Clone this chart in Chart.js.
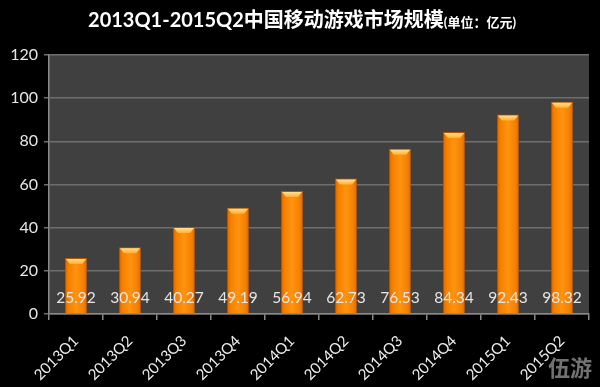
<!DOCTYPE html>
<html>
<head>
<meta charset="utf-8">
<script src="https://cdn.jsdelivr.net/npm/chart.js@4.4.1/dist/chart.umd.min.js"></script>
<style>
  html, body { margin: 0; padding: 0; background: #000; }
  #wrap { width: 600px; height: 387px; position: relative; }
</style>
</head>
<body>
<div id="wrap"><canvas id="marketChart"></canvas></div>
<script>
// chart data
const quarters = ['2013Q1', '2013Q2', '2013Q3', '2013Q4', '2014Q1', '2014Q2', '2014Q3', '2014Q4', '2015Q1', '2015Q2'];
const marketSize = [25.92, 30.94, 40.27, 49.19, 56.94, 62.73, 76.53, 84.34, 92.43, 98.32];
const yTicks = [0, 20, 40, 60, 80, 100, 120];
const titleMain = '2013Q1-2015Q2中国移动游戏市场规模';
const titleUnit = '(单位：亿元)';
const watermark = '伍游';

const BAR_PCT = 0.41;
const FONT = "Lato, 'Noto Sans CJK SC', sans-serif";

(function () {
    const canvas = document.getElementById('marketChart');
    const ctx = canvas.getContext('2d');

    function barGradient(context) {
        const chart = context.chart;
        const xs = chart.scales.x;
        if (!xs || !chart.chartArea) return '#ff8a00';
        const cx = xs.getPixelForValue(context.dataIndex);
        const w = xs.width / quarters.length * BAR_PCT;
        const g = chart.ctx.createLinearGradient(cx - w / 2, 0, cx + w / 2, 0);
        g.addColorStop(0, '#d46400');
        g.addColorStop(0.15, '#f57f00');
        g.addColorStop(0.5, '#ff9410');
        g.addColorStop(0.85, '#f57f00');
        g.addColorStop(1, '#d46400');
        return g;
    }

    // background, plot area, title, bevels, value labels
    const decor = {
        id: 'decor',
        beforeDraw(chart) {
            const c = chart.ctx;
            const a = chart.chartArea;
            c.save();
            c.fillStyle = '#000';
            c.fillRect(0, 0, chart.width, chart.height);
            c.fillStyle = '#404040';
            c.fillRect(a.left, a.top, a.right - a.left, a.bottom - a.top);
            c.restore();
        },
        afterDatasetsDraw(chart) {
            const c = chart.ctx;
            const meta = chart.getDatasetMeta(0);
            const ys = chart.scales.y;
            c.save();
            meta.data.forEach(function (bar, i) {
                const w = bar.width;
                const l = bar.x - w / 2;
                const r = bar.x + w / 2;
                const t = bar.y;
                const g = c.createLinearGradient(0, t, 0, t + 6);
                g.addColorStop(0, '#ffe9a0');
                g.addColorStop(1, '#ffb030');
                c.fillStyle = g;
                c.beginPath();
                c.moveTo(l + 1, t + 1);
                c.lineTo(r - 1, t + 1);
                c.lineTo(r - 5, t + 6);
                c.lineTo(l + 5, t + 6);
                c.closePath();
                c.fill();

                c.fillStyle = '#e6e6e6';
                c.font = '15.5px ' + FONT;
                c.textAlign = 'center';
                c.textBaseline = 'middle';
                c.fillText(marketSize[i].toFixed(2), bar.x, ys.bottom - 16);
            });
            c.restore();
        },
        afterDraw(chart) {
            const c = chart.ctx;
            c.save();
            c.fillStyle = '#ffffff';
            c.textBaseline = 'alphabetic';
            c.font = 'bold 20px ' + FONT;
            const w1 = c.measureText(titleMain).width;
            c.font = 'bold 13px ' + FONT;
            const w2 = c.measureText(titleUnit).width;
            const x0 = 302 - (w1 + w2) / 2;
            c.font = 'bold 20px ' + FONT;
            c.textAlign = 'left';
            c.fillText(titleMain, x0, 27);
            c.font = 'bold 13px ' + FONT;
            c.fillText(titleUnit, x0 + w1, 27);

            c.fillStyle = 'rgba(190,190,190,0.6)';
            c.font = 'bold 22px ' + FONT;
            c.fillText(watermark, 548, 376);
            c.restore();
        }
    };

    new Chart(ctx, {
        type: 'bar',
        data: {
            labels: quarters,
            datasets: [{
                data: marketSize,
                backgroundColor: barGradient,
                borderColor: '#b85500',
                borderWidth: 1,
                borderSkipped: 'bottom',
                barPercentage: BAR_PCT,
                categoryPercentage: 1
            }]
        },
        options: {
            responsive: true,
            maintainAspectRatio: false,
            animation: false,
            layout: {
                padding: { top: 55, right: 11, left: 0, bottom: 0 }
            },
            scales: {
                x: {
                    grid: {
                        offset: true,
                        drawOnChartArea: false,
                        color: '#8a8a8a',
                        lineWidth: 1.5,
                        tickLength: 6
                    },
                    border: { color: '#8a8a8a', width: 1.5 },
                    ticks: {
                        color: '#eeeeee',
                        font: { family: FONT, size: 15 },
                        minRotation: 45,
                        maxRotation: 45,
                        padding: 12
                    },
                    afterFit: function (scale) { scale.height = 73; }
                },
                y: {
                    min: 0,
                    max: 120,
                    afterBuildTicks: function (scale) {
                        scale.ticks = yTicks.map(function (v) { return { value: v }; });
                    },
                    grid: {
                        color: '#6e6e6e',
                        lineWidth: 1.5,
                        tickLength: 5
                    },
                    border: { color: '#8a8a8a', width: 1.5 },
                    ticks: {
                        color: '#e6e6e6',
                        font: { family: FONT, size: 16 },
                        padding: 6
                    },
                    afterFit: function (scale) { scale.width = 49; }
                }
            },
            plugins: {
                legend: { display: false },
                tooltip: { enabled: false }
            }
        },
        plugins: [decor]
    });
})();
</script>
</body>
</html>
